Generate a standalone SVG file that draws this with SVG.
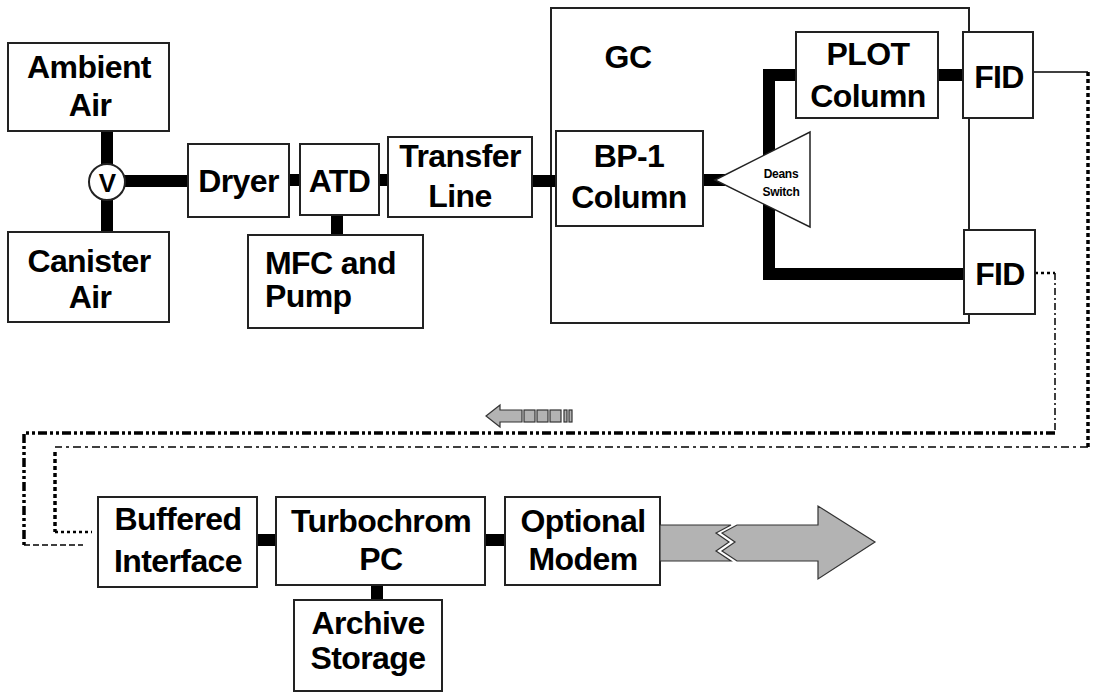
<svg xmlns="http://www.w3.org/2000/svg" width="1094" height="698" viewBox="0 0 1094 698">
<style>
.box{fill:#fff;stroke:#222;stroke-width:2}
.t{font-family:"Liberation Sans",Arial,sans-serif;font-weight:bold;font-size:32px;fill:#000;text-anchor:middle;letter-spacing:-0.6px}
.s{font-size:12px;letter-spacing:-0.3px}
.pipe{stroke:#000;stroke-width:12;fill:none}
.sig{fill:none;stroke:#000}
.gray{fill:#b3b3b3;stroke:#333;stroke-width:1.2}
</style>
<rect width="1094" height="698" fill="#fff"/>

<g id="gc">
<rect class="box" x="551" y="8" width="418" height="315"/>
<text class="t" x="628" y="68">GC</text>
</g>

<g id="connectors">
<line class="pipe" x1="107" y1="131" x2="107" y2="232"/>
<line class="pipe" x1="120" y1="181" x2="188" y2="181"/>
<line class="pipe" x1="289" y1="180" x2="300" y2="180"/>
<line class="pipe" x1="379" y1="180" x2="388" y2="180"/>
<line class="pipe" x1="337" y1="215" x2="337" y2="235"/>
<line class="pipe" x1="532" y1="181" x2="556" y2="181"/>
<line class="pipe" x1="703" y1="180" x2="725" y2="180"/>
<polyline class="pipe" points="796,75 769,75 769,274 964,274"/>
<line class="pipe" x1="938" y1="75" x2="963" y2="75"/>
<line class="pipe" x1="257" y1="540" x2="276" y2="540"/>
<line class="pipe" x1="485" y1="540" x2="505" y2="540"/>
<line class="pipe" x1="377" y1="585" x2="377" y2="600"/>
<!-- signal line from top FID -->
<polyline class="sig" stroke-width="1.5" points="1033,72 1088,72"/>
<polyline class="sig" stroke-width="3.5" stroke-dasharray="4 3" points="1088,72 1088,447"/>
<polyline class="sig" stroke-width="1.5" stroke-dasharray="8 4 3 4" points="1088,447 55,447"/>
<polyline class="sig" stroke-width="3.5" stroke-dasharray="4 3" points="55,452 55,532"/>
<polyline class="sig" stroke-width="2.5" stroke-dasharray="3 3" points="55,532 92,532"/>
<!-- signal line from bottom FID -->
<polyline class="sig" stroke-width="2.5" stroke-dasharray="3 3" points="1035,273 1055,273"/>
<polyline class="sig" stroke-width="1.5" stroke-dasharray="7 3 2 3" points="1055,273 1055,433"/>
<polyline class="sig" stroke-width="3.5" stroke-dasharray="9 3 3 3 3 3" points="1055,433 24,433 24,545"/>
<polyline class="sig" stroke-width="1.5" stroke-dasharray="6 3" points="24,545 83,545"/>
</g>

<g id="ambient-air">
<rect class="box" x="8" y="43" width="161" height="88"/>
<text class="t" x="89" y="78">Ambient</text>
<text class="t" x="90" y="116">Air</text>
</g>
<g id="canister-air">
<rect class="box" x="8" y="232" width="161" height="90"/>
<text class="t" x="89" y="272">Canister</text>
<text class="t" x="90" y="308">Air</text>
</g>
<g id="valve">
<circle cx="107" cy="182" r="18" fill="#fff" stroke="#222" stroke-width="2"/>
<text class="t" x="107" y="192" style="font-size:26px">V</text>
</g>
<g id="dryer">
<rect class="box" x="188" y="144" width="101" height="73"/>
<text class="t" x="238.5" y="192">Dryer</text>
</g>
<g id="atd">
<rect class="box" x="300" y="144" width="79" height="71"/>
<text class="t" x="339.5" y="192">ATD</text>
</g>
<g id="transfer-line">
<rect class="box" x="388" y="137" width="144" height="80"/>
<text class="t" x="460" y="167">Transfer</text>
<text class="t" x="460" y="207">Line</text>
</g>
<g id="mfc-pump">
<rect class="box" x="248" y="235" width="175" height="93"/>
<text class="t" x="265" y="274" style="text-anchor:start">MFC and</text>
<text class="t" x="265" y="307" style="text-anchor:start">Pump</text>
</g>
<g id="bp1-column">
<rect class="box" x="556" y="131" width="147" height="95"/>
<text class="t" x="629" y="167">BP-1</text>
<text class="t" x="629" y="208">Column</text>
</g>
<g id="deans-switch">
<polygon points="715,180 810,132 810,227" fill="#fff" stroke="#222" stroke-width="1.5"/>
<text class="t s" x="781" y="178">Deans</text>
<text class="t s" x="781" y="196">Switch</text>
</g>
<g id="plot-column">
<rect class="box" x="796" y="32" width="142" height="86"/>
<text class="t" x="868" y="65">PLOT</text>
<text class="t" x="868" y="107">Column</text>
</g>
<g id="fid-top">
<rect class="box" x="963" y="32" width="70" height="86"/>
<text class="t" x="999" y="88">FID</text>
</g>
<g id="fid-bottom">
<rect class="box" x="964" y="230" width="71" height="84"/>
<text class="t" x="1000" y="285">FID</text>
</g>

<g id="flow-arrow-icon">
<polygon class="gray" points="486,416 500,405 500,410 522,410 522,422 500,422 500,427"/>
<rect class="gray" x="524" y="410" width="11" height="12"/>
<rect class="gray" x="537" y="410" width="11" height="12"/>
<rect class="gray" x="550" y="410" width="11" height="12"/>
<rect class="gray" x="564" y="410" width="3" height="12"/>
<rect class="gray" x="569" y="410" width="3" height="12"/>
</g>

<g id="buffered-interface">
<rect class="box" x="98" y="497" width="159" height="90"/>
<text class="t" x="178" y="530">Buffered</text>
<text class="t" x="178" y="572">Interface</text>
</g>
<g id="turbochrom-pc">
<rect class="box" x="276" y="497" width="209" height="88"/>
<text class="t" x="381" y="532">Turbochrom</text>
<text class="t" x="381" y="570">PC</text>
</g>
<g id="optional-modem">
<rect class="box" x="505" y="497" width="155" height="88"/>
<text class="t" x="583" y="532">Optional</text>
<text class="t" x="583" y="570">Modem</text>
</g>
<g id="archive-storage">
<rect class="box" x="294" y="600" width="148" height="91"/>
<text class="t" x="368" y="634">Archive</text>
<text class="t" x="368" y="669">Storage</text>
</g>

<g id="modem-link">
<polygon class="gray" points="660,525 731,525 716,533 729,542 716,551 731,561 660,561"/>
<polygon class="gray" points="737,525 818,525 818,506 875,542 818,579 818,561 737,561 722,551 735,542 722,533"/>
</g>
</svg>
